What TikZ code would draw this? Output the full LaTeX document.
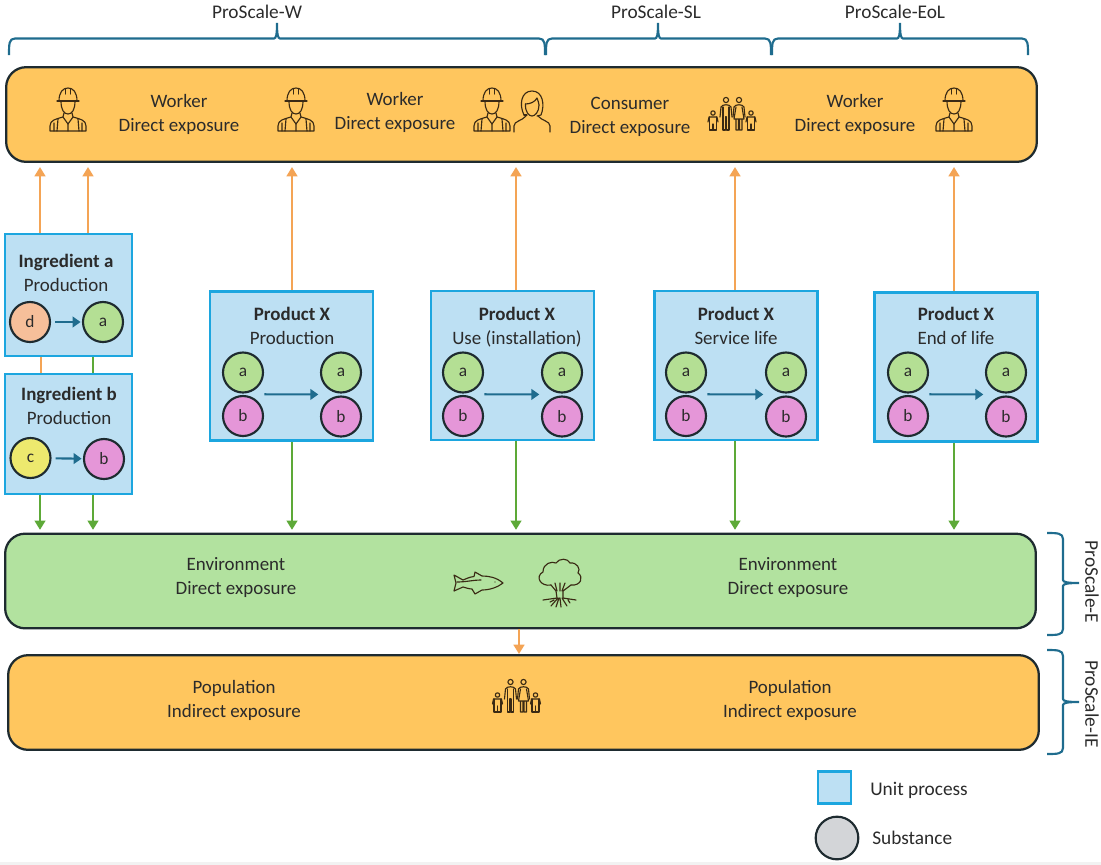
\documentclass[tikz,border=0pt]{standalone}
\usepackage{fontspec}
\setmainfont{Carlito}
\usetikzlibrary{arrows.meta,calc}
\definecolor{barorange}{HTML}{FFC65E}
\definecolor{bargreen}{HTML}{B2E29F}
\definecolor{barline}{HTML}{1E2B30}
\definecolor{boxfill}{HTML}{BDE0F3}
\definecolor{boxline}{HTML}{1CA6DF}
\definecolor{fluxorange}{HTML}{F4A455}
\definecolor{fluxgreen}{HTML}{5DA938}
\definecolor{flowblue}{HTML}{1F6C8E}
\definecolor{subsa}{HTML}{B4DF94}
\definecolor{subsb}{HTML}{E596D8}
\definecolor{subsc}{HTML}{EDE96E}
\definecolor{subsd}{HTML}{F6BF9A}
\definecolor{subsgrey}{HTML}{D3D5D8}
\definecolor{inktext}{HTML}{2B2B2B}
\definecolor{iconink}{HTML}{3A2A14}
\newcommand{\topbrace}[3]{
    \draw[bracket] (#1,55) .. controls (#1,44) and (#1,38.5) .. (#1+6,38.5) -- (#2-3,38.5)
        .. controls (#2-1,38.5) and (#2,35) .. (#2,23) .. controls (#2,35) and (#2+1,38.5) .. (#2+3,38.5)
        -- (#3-6,38.5) .. controls (#3,38.5) and (#3,44) .. (#3,55);
}
\newcommand{\sidebrace}[3]{
    \draw[bracket] (1047,#1) .. controls (1057,#1) and (1063,#1) .. (1063,#1+6) -- (1063,#2-3)
        .. controls (1063,#2-1) and (1067,#2) .. (1079,#2) .. controls (1067,#2) and (1063,#2+1) .. (1063,#2+3)
        -- (1063,#3-6) .. controls (1063,#3) and (1057,#3) .. (1047,#3);
}
\tikzset{
    bar/.style={draw=barline,line width=1.7pt,rounded corners=15pt,minimum width=773pt,minimum height=71pt,inner sep=0pt},
    unitbox/.style={draw=boxline,fill=boxfill,line width=1.8pt,inner sep=0pt},
    substance/.style={circle,draw=barline,line width=1.6pt,minimum size=30pt,inner sep=0pt,font=\fontsize{13}{14}\selectfont,text=inktext},
    label/.style={align=center,font=\fontsize{14.2}{18}\selectfont,text=inktext,inner sep=0pt},
    tag/.style={font=\fontsize{14.5}{16}\selectfont,text=inktext,inner sep=0pt},
    bracket/.style={draw=flowblue,line width=1.6pt},
    toworker/.style={draw=fluxorange,line width=1.8pt,-{Triangle[length=7pt,width=8pt]}},
    toenv/.style={draw=fluxgreen,line width=1.8pt,-{Triangle[length=7pt,width=8pt]}},
    flow/.style={draw=flowblue,line width=1.6pt,-{Triangle[length=6pt,width=8pt]}},
    iconline/.style={draw=iconink,line width=.85pt,line join=round,line cap=round},
    worker/.pic={
        \draw[iconline] (-11,-9) -- (11,-9);
        \draw[iconline] (-9,-9) .. controls (-9,-18) and (-5,-22) .. (0,-22) .. controls (5,-22) and (9,-18) .. (9,-9);
        \draw[iconline] (-2.5,-21.5) -- (-2.5,-16) (2.5,-21.5) -- (2.5,-16);
        \draw[iconline] (-7,-9) .. controls (-7,0) and (-4,4) .. (0,4) .. controls (4,4) and (7,0) .. (7,-9);
        \draw[iconline] (-4,3) -- (-5,7) -- (0,14) -- (5,7) -- (4,3);
        \draw[iconline] (-5,7) .. controls (-12,9) and (-18,10) .. (-18,16) -- (-18,21) -- (18,21) -- (18,16) .. controls (18,10) and (12,9) .. (5,7);
        \draw[iconline] (-10,9) -- (-11,21) (10,9) -- (11,21) (0,14) -- (0,21) (-14,13) -- (-14,21) (14,13) -- (14,21);
    },
    woman/.pic={
        \draw[iconline] (-8,4) .. controls (-13,-6) and (-11,-20) .. (0,-20) .. controls (11,-20) and (13,-6) .. (9,4) -- (5,5);
        \draw[iconline] (-8,4) -- (-5,4);
        \draw[iconline] (-6.5,-7) .. controls (-2,-7) and (3,-9) .. (5,-13) .. controls (6,-10) and (7,-8) .. (7,-6);
        \draw[iconline] (-6.5,-7) .. controls (-7,1) and (-3,5) .. (0,5) .. controls (3,5) and (7,1) .. (7,-6);
        \draw[iconline] (-18,21) -- (-18,15) .. controls (-18,10) and (-10,10) .. (-6,5);
        \draw[iconline] (18,21) -- (18,15) .. controls (18,10) and (10,10) .. (6,5);
    },
    family/.pic={
        \draw[iconline] (-7,-14) circle (2.6) (6,-14) circle (2.6);
        \draw[iconline] (-13,3) -- (-12,-7) .. controls (-11,-10) and (-3,-10) .. (-2,-7) -- (-1,3);
        \draw[iconline] (-10,-7) -- (-10,16) -- (-7.5,16) -- (-7.5,3) -- (-6.5,3) -- (-6.5,16) -- (-4,16) -- (-4,-7);
        \draw[iconline] (0,3) -- (1,-7) .. controls (2,-10) and (10,-10) .. (11,-7) -- (12,3);
        \draw[iconline] (3,-7) -- (1,5) -- (11,5) -- (9,-7) (3,5) -- (3,16) -- (5.5,16) -- (5.5,5) (6.5,5) -- (6.5,16) -- (9,16) -- (9,5);
        \foreach \hx in {-20,18} {
            \draw[iconline] (\hx,-1) circle (2.2);
            \draw[iconline] (\hx-5,8) -- (\hx-4,3) -- (\hx+4,3) -- (\hx+5,8);
            \draw[iconline] (\hx-3.5,3) -- (\hx-3.5,16) -- (\hx+3.5,16) -- (\hx+3.5,3) (\hx,10) -- (\hx,16);
        }
    },
    fish/.pic={
        \draw[iconline] (25,0) .. controls (18,-6) and (10,-7) .. (4,-7) -- (-3,-11) -- (-4,-6.5) .. controls (-9,-6) and (-12,-4) .. (-15,-3) -- (-24,-8)
            -- (-22,0) -- (-24,8) -- (-15,4) .. controls (-12,5) and (-8,6) .. (-6,6) -- (-3,11) -- (4,7) .. controls (12,7) and (20,4) .. (25,0) -- cycle;
        \draw[iconline] (-21,-1) .. controls (-12,-1) and (-5,-3) .. (3,-3);
        \fill[iconink] (17,-1) circle (.7);
    },
    tree/.pic={
        \draw[iconline] (-9,2) .. controls (-20,4) and (-25,-7) .. (-17,-11) .. controls (-17,-20) and (-8,-22) .. (-4,-20)
            .. controls (-1,-25) and (8,-25) .. (10,-20) .. controls (17,-21) and (21,-14) .. (18,-10)
            .. controls (24,-6) and (21,3) .. (11,2);
        \draw[iconline] (-9,2) -- (-4,8) (-5,0) -- (-3,8) (0,0) -- (0,8) (5,0) -- (2,8) (11,2) -- (3,8);
        \draw[iconline] (-4,8) -- (-3,15) (3,8) -- (3,15);
        \draw[iconline] (-3,15) -- (-17,17) (-2,15) -- (-9,23) (-1,15) -- (-4,24) (0,15) -- (1,24) (2,15) -- (7,23) (3,15) -- (16,17) (-6,17) -- (-10,19) (8,17) -- (10,20);
    }
}
\begin{document}
\begin{tikzpicture}[x=0.75pt,y=-0.75pt]
    \useasboundingbox (0,0) rectangle (1101,865);
    \fill[gray!10] (0,862) rectangle (1101,865);
    \node[bar,fill=barorange] (top) at (521.5,114.5) {};
    \node[bar,fill=bargreen] (env) at (520.5,581) {};
    \node[bar,fill=barorange] (pop) at (523.5,702.5) {};

    \node[label] (lab1) at (179,114.5) {Worker\\Direct exposure};
    \node[label] (lab2) at (395,112) {Worker\\Direct exposure};
    \node[label] (lab3) at (630,116.5) {Consumer\\Direct exposure};
    \node[label] (lab4) at (855,114.5) {Worker\\Direct exposure};
    \node[label] (lab5) at (236,577.5) {Environment\\Direct exposure};
    \node[label] (lab6) at (788,577.5) {Environment\\Direct exposure};
    \node[label] (lab7) at (234,700.5) {Population\\Indirect exposure};
    \node[label] (lab8) at (790,700.5) {Population\\Indirect exposure};

    \foreach \x in {68,296,492,954} {
        \pic at (\x,110) {worker};
    }
    \pic at (532,111) {woman};
    \pic at (733,114) {family};
    \pic at (517.5,696) {family};
    \pic at (478,583) {fish};
    \pic at (560,583) {tree};

    \node[unitbox,minimum width=95pt,minimum height=91.5pt] (inga) at (68.5,295) {};
    \node[unitbox,minimum width=95pt,minimum height=90pt] (ingb) at (68.5,434) {};
    \node[label] (ingalab) at (66,273) {\textbf{Ingredient a}\\Production};
    \node[label] (ingblab) at (69,406) {\textbf{Ingredient b}\\Production};
    \node[substance,fill=subsd] (d) at (30,322) {d};
    \node[substance,fill=subsa] (a) at (103,322) {a};
    \node[substance,fill=subsc] (c) at (30.5,458) {c};
    \node[substance,fill=subsb] (b) at (104,459) {b};
    \draw[flow,shorten <=3pt,shorten >=1pt] (d) -- (a);
    \draw[flow,shorten <=3pt,shorten >=1pt] (c) -- (b);

    \foreach \nm/\bx/\by/\lx/\ax/\xl/\xr/\sub in {
        prod/291.5/366/292/292/243/341/Production,
        use/512.5/365.5/517/516/463/562/Use (installation),
        serv/736/365.5/736/735/686/786/Service life,
        eol/956/367/956/954/908/1006/End of life} {
        \node[unitbox,minimum width=122pt,minimum height=112pt] (\nm) at (\bx,\by) {};
        \node[label] (\nm lab) at (\lx,328) {\textbf{Product X}\strut\\\sub\strut};
        \node[substance,fill=subsa] (\nm a1) at (\xl,372.5) {a};
        \node[substance,fill=subsb] (\nm b1) at (\xl,416) {b};
        \node[substance,fill=subsa] (\nm a2) at (\xr,372.5) {a};
        \node[substance,fill=subsb] (\nm b2) at (\xr,416.5) {b};
        \draw[flow,shorten <=16pt,shorten >=17pt] ($(\nm a1)!.5!(\nm b1)$) -- ($(\nm a2)!.5!(\nm b2)$);
        \draw[toworker,shorten >=3pt] (\ax,0 |- \nm.north) -- (\ax,0 |- top.south);
        \draw[toenv,shorten >=2pt] (\ax,0 |- \nm.south) -- (\ax,0 |- env.north);
    }

    \foreach \x in {40,88} {
        \draw[toworker,shorten >=3pt] (\x,0 |- inga.north) -- (\x,0 |- top.south);
    }
    \draw[draw=fluxorange,line width=1.8pt] (41,0 |- ingb.north) -- (41,0 |- inga.south);
    \draw[draw=fluxgreen,line width=1.8pt] (93,0 |- ingb.north) -- (93,0 |- inga.south);
    \foreach \x in {40,93} {
        \draw[toenv,shorten >=2pt] (\x,0 |- ingb.south) -- (\x,0 |- env.north);
    }
    \draw[toworker] (519,0 |- env.south) -- (519,0 |- pop.north);

    \topbrace{9}{277}{545}
    \topbrace{546}{658}{771}
    \topbrace{772}{900}{1028}
    \sidebrace{533}{583}{635}
    \sidebrace{650}{702}{754}
    \node[tag] (tagw) at (257,12) {ProScale-W};
    \node[tag] (tagsl) at (656,12) {ProScale-SL};
    \node[tag] (tageol) at (895,12) {ProScale-EoL};
    \node[tag,rotate=-90] (tage) at (1092,582) {ProScale-E};
    \node[tag,rotate=-90] (tagie) at (1092,704) {ProScale-IE};

    \node[unitbox,minimum width=25pt,minimum height=24pt] (legbox) at (834.5,787.5) {};
    \node[substance,fill=subsgrey,minimum size=32pt] (legsub) at (837,838) {};
    \node[tag,anchor=west] (legboxlab) at (870,790) {Unit process};
    \node[tag,anchor=west] (legsublab) at (872,838) {Substance};
\end{tikzpicture}
\end{document}
